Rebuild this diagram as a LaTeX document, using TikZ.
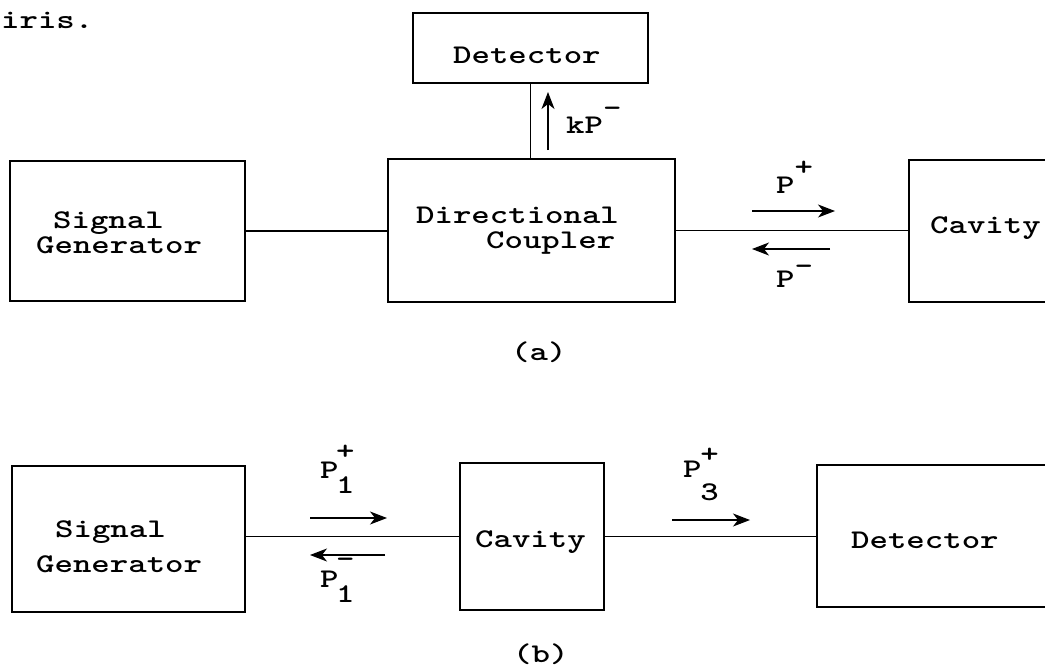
\documentclass[tikz,border=0pt]{standalone}
\usepackage{graphicx}
\usetikzlibrary{arrows.meta}
\newcommand\tw[1]{\scalebox{1.30}[1]{\fontsize{27}{27}\selectfont\ttfamily\bfseries #1}}
\tikzset{
  box/.style={draw, line width=1.7pt, inner sep=0pt},
  wire/.style={line width=1.6pt},
  sig/.style={line width=1.1pt, -{Stealth[length=17pt,width=13pt,inset=5pt]}},
  txt/.style={inner sep=0pt, anchor=base west}
}
\begin{document}
\begin{tikzpicture}[x=1pt,y=-1pt]
\useasboundingbox (0,0) rectangle (1045,670);
\clip (0,0) rectangle (1045,670);
\fill[white] (0,0) rectangle (1045,670);

\node[txt] (iris) at (1,28) {\tw{iris.}};

% ---------- (a) ----------
\node[box, minimum width=235pt, minimum height=140pt] (sgA) at (127.5,231) {};
\node[box, minimum width=235pt, minimum height=70pt] (detA) at (530.5,48) {};
\node[box, minimum width=287pt, minimum height=143pt] (dcA) at (531.5,230.5) {};
\node[box, minimum width=161pt, minimum height=142pt] (cavA) at (989.5,231) {};

\node[txt] (sgA1) at (53,228) {\tw{Signal}};
\node[txt] (sgA2) at (36,253) {\tw{Generator}};
\node[txt] (detAt) at (453,63) {\tw{Detector}};
\node[txt] (dcA1) at (416,223) {\tw{Directional}};
\node[txt] (dcA2) at (486,248) {\tw{Coupler}};
\node[txt] (cavAt) at (930,233) {\tw{Cavity}};

\draw[wire] (sgA.east) -- (sgA.east -| dcA.west);
\draw[wire] (dcA.east) -- (dcA.east -| cavA.west);
\draw[wire] (detA.south) -- (detA.south |- dcA.north);

\coordinate (kpS) at (548,150); \coordinate (kpE) at (548,92);
\draw[sig] (kpS) -- (kpE);
\node[txt] (kp) at (566,133) {\tw{kP\raisebox{17pt}{-}}};

\coordinate (ppS) at (752,211); \coordinate (ppE) at (835,211);
\draw[sig] (ppS) -- (ppE);
\node[txt] (pp) at (776,193) {\tw{P\raisebox{18pt}{+}}};

\coordinate (pmS) at (830,249); \coordinate (pmE) at (752,249);
\draw[sig] (pmS) -- (pmE);
\node[txt] (pm) at (776,287) {\tw{P\raisebox{13pt}{-}}};

\node[txt] (capA) at (511,360) {\tw{(a)}};

% ---------- (b) ----------
\node[box, minimum width=233pt, minimum height=146pt] (sgB) at (128.5,539) {};
\node[box, minimum width=144pt, minimum height=147pt] (cavB) at (532,536.5) {};
\node[box, minimum width=253pt, minimum height=142pt] (detB) at (943.5,536) {};

\node[txt] (sgB1) at (55,537) {\tw{Signal}};
\node[txt] (sgB2) at (36,572) {\tw{Generator}};
\node[txt] (cavBt) at (475,547) {\tw{Cavity}};
\node[txt] (detBt) at (851,548) {\tw{Detector}};

\draw[wire] (cavB.west -| sgB.east) -- (cavB.west);
\draw[wire] (cavB.east) -- (cavB.east -| detB.west);

\coordinate (p1pS) at (310,518); \coordinate (p1pE) at (387,518);
\draw[sig] (p1pS) -- (p1pE);
\node[txt] (p1p) at (320,478) {\tw{P\kern-2pt\rlap{\raisebox{-15pt}{1}}\raisebox{19pt}{+}}};

\coordinate (p1mS) at (385,555); \coordinate (p1mE) at (310,555);
\draw[sig] (p1mS) -- (p1mE);
\node[txt] (p1m) at (320,587) {\tw{P\kern-2pt\rlap{\raisebox{-15pt}{1}}\raisebox{20pt}{-}}};

\coordinate (p3pS) at (672,520); \coordinate (p3pE) at (750,520);
\draw[sig] (p3pS) -- (p3pE);
\node[txt] (p3p) at (683,477) {\tw{P\kern-1pt\rlap{\raisebox{-23pt}{3}}\raisebox{15pt}{+}}};

\node[txt] (capB) at (513,662) {\tw{(b)}};
\end{tikzpicture}
\end{document}
